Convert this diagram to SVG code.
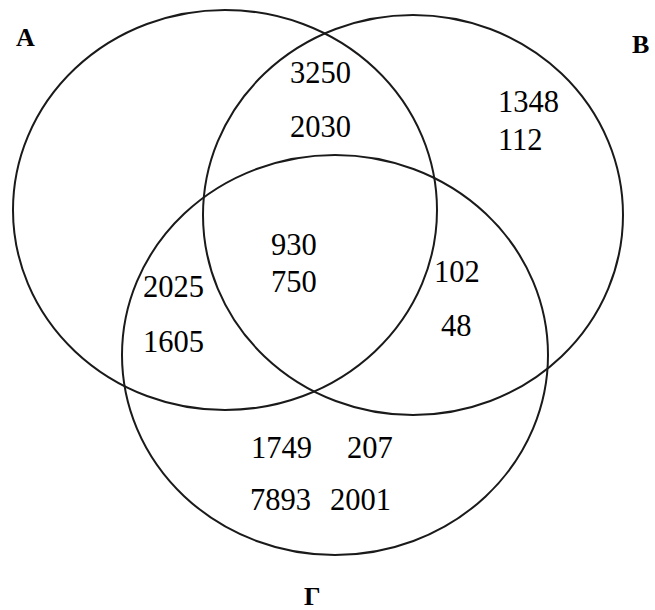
<svg xmlns="http://www.w3.org/2000/svg" width="655" height="610" viewBox="0 0 655 610">
<style>
.c{fill:none;stroke:#1a1a1a;stroke-width:2}
.n{font-family:"Liberation Serif","Times New Roman",serif;font-size:30.5px;fill:#000}
.l{font-family:"Liberation Serif","Times New Roman",serif;font-size:26px;font-weight:bold;fill:#000}
</style>
<rect width="655" height="610" fill="#fff"/>
<g id="setA">
<ellipse class="c" cx="225" cy="210" rx="212" ry="200"/>
<text class="l" x="16" y="46">A</text>
</g>
<g id="setB">
<ellipse class="c" cx="413" cy="215" rx="210" ry="200"/>
<text class="l" x="632" y="53">B</text>
</g>
<g id="setG">
<ellipse class="c" cx="335" cy="355" rx="213" ry="200"/>
<text class="l" x="304" y="605">Γ</text>
</g>
<g id="values">
<text class="n" x="290" y="83">3250</text>
<text class="n" x="290" y="137">2030</text>
<text class="n" x="498" y="112">1348</text>
<text class="n" x="498" y="150">112</text>
<text class="n" x="271" y="255">930</text>
<text class="n" x="271" y="292">750</text>
<text class="n" x="143" y="297">2025</text>
<text class="n" x="143" y="352">1605</text>
<text class="n" x="434" y="282">102</text>
<text class="n" x="441" y="336">48</text>
<text class="n" x="251" y="458">1749</text>
<text class="n" x="347" y="458">207</text>
<text class="n" x="250" y="510">7893</text>
<text class="n" x="330" y="510">2001</text>
</g>
<g id="connectors"></g>
</svg>
